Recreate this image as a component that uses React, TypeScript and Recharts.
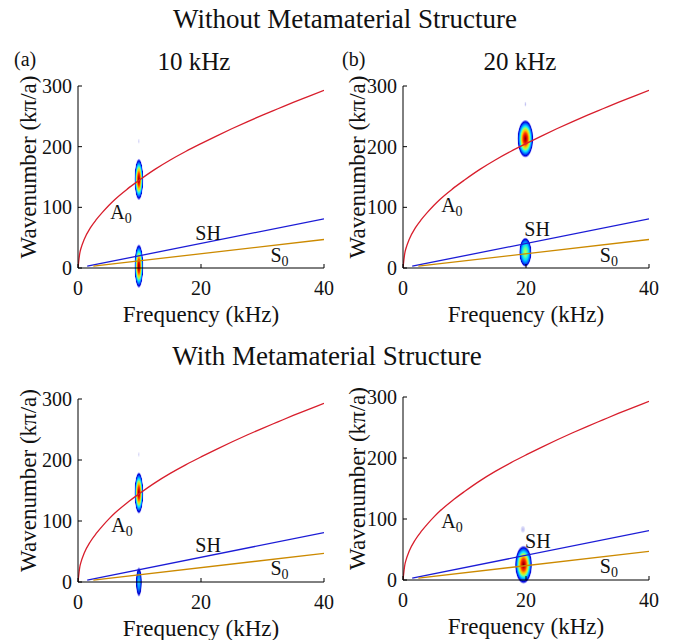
import React from 'react';
import { LineChart, Line, XAxis, YAxis, ReferenceArea, ReferenceDot } from 'recharts';

const FONT = '"Liberation Serif", "Times New Roman", serif';

// ---- data ----
const xTicks = [0, 20, 40];
const yTicks = [0, 100, 200, 300];

const a0Freq = [0, 0.3, 0.5, 1, 2, 3, 4, 5, 6, 8, 10, 12.5, 15, 17.5, 20, 22.5, 25, 27.5, 30, 32.5, 35, 37.5, 40];
const a0Wave = [0, 25, 33, 47, 66, 80, 92, 103, 113, 130, 145, 162.5, 178, 192, 205, 217.5, 229.5, 241, 252, 262.5, 273, 283, 293];
const shFreq = [1.5, 40];
const shWave = [3, 81];
const s0Freq = [2.5, 40];
const s0Wave = [3, 47];

const a0Curve = a0Freq.map((f, i) => ({ f, k: a0Wave[i] }));
const shCurve = shFreq.map((f, i) => ({ f, k: shWave[i] }));
const s0Curve = s0Freq.map((f, i) => ({ f, k: s0Wave[i] }));

type Blob = { f: number; k: number; hf: number; hk: number; level: string };
type Tag = { text: string; sub: string; f: number; k: number };

const blobsA: Blob[] = [
  { f: 9.9, k: 146, hf: 0.72, hk: 34, level: 'high' },
  { f: 9.9, k: 3, hf: 0.72, hk: 36, level: 'high' },
  { f: 9.9, k: 209, hf: 0.12, hk: 4, level: 'faint' },
];
const blobsB: Blob[] = [
  { f: 19.9, k: 213, hf: 1.3, hk: 31, level: 'high' },
  { f: 19.9, k: 26, hf: 1.0, hk: 24, level: 'mid' },
  { f: 19.9, k: 270, hf: 0.15, hk: 4, level: 'faint' },
];
const blobsC: Blob[] = [
  { f: 9.9, k: 146, hf: 0.72, hk: 34, level: 'high' },
  { f: 9.9, k: 0, hf: 0.5, hk: 24, level: 'low' },
  { f: 9.9, k: 209, hf: 0.12, hk: 4, level: 'faint' },
];
const blobsD: Blob[] = [
  { f: 19.6, k: 25, hf: 1.4, hk: 31, level: 'high' },
  { f: 19.5, k: 83, hf: 0.35, hk: 5.5, level: 'faint' },
];

const tagsA: Tag[] = [
  { text: 'A', sub: '0', f: 5.25, k: 80 },
  { text: 'SH', sub: '', f: 19.07, k: 46.5 },
  { text: 'S', sub: '0', f: 31.3, k: 9.2 },
];
const tagsB: Tag[] = [
  { text: 'A', sub: '0', f: 6.2, k: 91.7 },
  { text: 'SH', sub: '', f: 19.73, k: 52.7 },
  { text: 'S', sub: '0', f: 32.0, k: 10.4 },
];
const tagsC: Tag[] = [
  { text: 'A', sub: '0', f: 5.42, k: 82.6 },
  { text: 'SH', sub: '', f: 19.07, k: 49.8 },
  { text: 'S', sub: '0', f: 31.3, k: 11.5 },
];
const tagsD: Tag[] = [
  { text: 'A', sub: '0', f: 6.22, k: 85.7 },
  { text: 'SH', sub: '', f: 19.84, k: 53 },
  { text: 'S', sub: '0', f: 32.0, k: 11 },
];

const xAxisTitle = 'Frequency (kHz)';
const yAxisTitle = 'Wavenumber (kπ/a)';

const panels = [
  { id: 'pa', left: 0, top: 40, height: 300, blobs: blobsA, tags: tagsA, yLabelDx: -50 },
  { id: 'pb', left: 325, top: 40, height: 300, blobs: blobsB, tags: tagsB, yLabelDx: -46 },
  { id: 'pc', left: 0, top: 353, height: 301, blobs: blobsC, tags: tagsC, yLabelDx: -50 },
  { id: 'pd', left: 325, top: 351, height: 301, blobs: blobsD, tags: tagsD, yLabelDx: -46 },
];

const gradientStops: Record<string, [number, string, number][]> = {
  high: [
    [0, '#7a0000', 1], [0.14, '#c80000', 1], [0.3, '#ff3a00', 1], [0.44, '#ffc400', 1],
    [0.56, '#a0ff60', 1], [0.67, '#10e8ff', 1], [0.8, '#0068ff', 1], [0.9, '#0000d8', 1],
    [1, '#9090ff', 0.6],
  ],
  mid: [
    [0, '#c8ff40', 1], [0.3, '#60ffa0', 1], [0.55, '#00d8ff', 1], [0.76, '#0060ff', 1],
    [0.9, '#0000d0', 1], [1, '#9090ff', 0.6],
  ],
  low: [
    [0, '#30d8ff', 1], [0.45, '#0080ff', 1], [0.82, '#0000d0', 1], [1, '#9090ff', 0.6],
  ],
  faint: [
    [0, '#b8b8f0', 1], [1, '#d8d8f8', 0.6],
  ],
};

const COLORS = { a0: '#d81e2c', sh: '#1c1cd6', s0: '#cc8a00' };

const CSS = `
#root svg text, #root svg tspan, #root .recharts-wrapper text, #root .recharts-wrapper tspan,
.recharts-surface text, .recharts-surface tspan, .recharts-text {
  font-family: "Liberation Serif", "Times New Roman", serif !important;
}
`;

function XTick(props: any) {
  return (
    <text x={props.x} y={props.y} dy="0.71em" textAnchor="middle" fontFamily={FONT} fontSize={20} fill="#111">
      {props.payload.value}
    </text>
  );
}

function YTick(props: any) {
  return (
    <text x={props.x} y={props.y} dy="0.35em" textAnchor="end" fontFamily={FONT} fontSize={20} fill="#111">
      {props.payload.value}
    </text>
  );
}

function Panel({ p }: { p: any }) {
  return (
    <div style={{ position: 'absolute', left: p.left, top: p.top }}>
      <LineChart width={336} height={p.height} margin={{ top: 46, right: 12, bottom: 0, left: 0 }}>
        <defs>
          {Object.keys(gradientStops).map((lv) => (
            <radialGradient key={lv} id={`${p.id}-${lv}`} cx="50%" cy="50%" r="50%">
              {gradientStops[lv].map(([o, c, a], i) => (
                <stop key={i} offset={o} stopColor={c} stopOpacity={a} />
              ))}
            </radialGradient>
          ))}
        </defs>
        <XAxis
          type="number"
          dataKey="f"
          domain={[0, 40]}
          ticks={xTicks}
          allowDataOverflow
          height={72}
          tickSize={-4}
          tickMargin={17}
          stroke="#000"
          tickLine={{ stroke: '#000' }}
          tick={<XTick />}
        />
        <YAxis
          type="number"
          dataKey="k"
          domain={[0, 300]}
          ticks={yTicks}
          allowDataOverflow
          width={78}
          tickSize={-4}
          tickMargin={10}
          stroke="#000"
          tickLine={{ stroke: '#000' }}
          tick={<YTick />}
        />
        <Line data={a0Curve} dataKey="k" type="monotone" stroke={COLORS.a0} strokeWidth={1.3} dot={false} isAnimationActive={false} />
        <Line data={shCurve} dataKey="k" type="linear" stroke={COLORS.sh} strokeWidth={1.3} dot={false} isAnimationActive={false} />
        <Line data={s0Curve} dataKey="k" type="linear" stroke={COLORS.s0} strokeWidth={1.3} dot={false} isAnimationActive={false} />
        {p.blobs.map((b: Blob, i: number) => (
          <ReferenceArea
            key={`b${i}`}
            x1={b.f - b.hf}
            x2={b.f + b.hf}
            y1={b.k - b.hk}
            y2={b.k + b.hk}
            ifOverflow="hidden"
            shape={(sp: any) => (
              <ellipse
                cx={sp.x + sp.width / 2}
                cy={sp.y + sp.height / 2}
                rx={Math.abs(sp.width / 2)}
                ry={Math.abs(sp.height / 2)}
                fill={`url(#${p.id}-${b.level})`}
              />
            )}
          />
        ))}
        {p.tags.map((t: Tag, i: number) => (
          <ReferenceDot
            key={`t${i}`}
            x={t.f}
            y={t.k}
            r={0}
            shape={(sp: any) => (
              <text x={sp.cx} y={sp.cy} fontFamily={FONT} fontSize={20} fill="#111">
                {t.text}
                {t.sub ? (
                  <tspan fontSize={14} dy={4}>
                    {t.sub}
                  </tspan>
                ) : null}
              </text>
            )}
          />
        ))}
        <ReferenceDot
          x={20}
          y={0}
          r={0}
          ifOverflow="visible"
          shape={(sp: any) => (
            <text x={sp.cx} y={sp.cy + 53.5} textAnchor="middle" fontFamily={FONT} fontSize={23} fill="#111">
              {xAxisTitle}
            </text>
          )}
        />
        <ReferenceDot
          x={0}
          y={150}
          r={0}
          ifOverflow="visible"
          shape={(sp: any) => {
            const cx = sp.cx + p.yLabelDx;
            const cy = sp.cy - 10;
            return (
              <text
                x={cx}
                y={cy}
                dy="0.35em"
                transform={`rotate(-90 ${cx} ${cy})`}
                textAnchor="middle"
                fontFamily={FONT}
                fontSize={23}
                fill="#111"
              >
                {yAxisTitle}
              </text>
            );
          }}
        />
      </LineChart>
    </div>
  );
}

export default function App() {
  return (
    <div style={{ position: 'absolute', left: 0, top: 0, width: 673, height: 640, background: '#fff', overflow: 'hidden' }}>
      <style>{CSS}</style>
      <svg width={673} height={640} style={{ position: 'absolute', left: 0, top: 0 }}>
        <g fontFamily={FONT} fill="#111">
          <text x={345} y={28} fontSize={27} textAnchor="middle">Without Metamaterial Structure</text>
          <text x={14} y={66} fontSize={20}>(a)</text>
          <text x={194} y={70} fontSize={25} textAnchor="middle">10 kHz</text>
          <text x={342} y={66} fontSize={20}>(b)</text>
          <text x={520} y={70} fontSize={25} textAnchor="middle">20 kHz</text>
          <text x={327} y={365} fontSize={27} textAnchor="middle">With Metamaterial Structure</text>
        </g>
      </svg>
      {panels.map((p) => (
        <Panel key={p.id} p={p} />
      ))}
    </div>
  );
}
